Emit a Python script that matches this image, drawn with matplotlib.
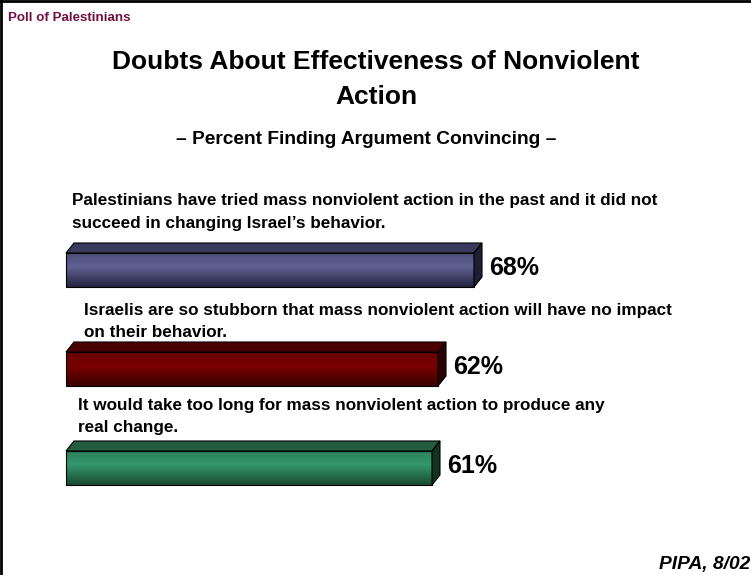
import numpy as np
import matplotlib.pyplot as plt
from matplotlib.colors import LinearSegmentedColormap
from matplotlib.patches import Polygon
from matplotlib.lines import Line2D

plt.rcParams['font.family'] = ['Liberation Sans', 'DejaVu Sans']

# data
statements = [
    "Palestinians have tried mass nonviolent action in the past and it did not\nsucceed in changing Israel\u2019s behavior.",
    "Israelis are so stubborn that mass nonviolent action will have no impact\non their behavior.",
    "It would take too long for mass nonviolent action to produce any\nreal change.",
]
values = [68, 62, 61]
value_labels = ["68%", "62%", "61%"]

# colours: (dark, mid, top face, side face)
bar_cols = [
    ("#242440", "#606093", "#3a3a5e", "#1e1e34"),
    ("#380000", "#7a0000", "#4a0000", "#2a0000"),
    ("#1a4a32", "#34986b", "#245c40", "#123222"),
]
# statement text placement in pixels (left, vertical centre)
label_px = [(72, 212), (84, 321.5), (78, 416.5)]

W, H = 751, 575
fig = plt.figure(figsize=(W / 100, H / 100), dpi=100)
ax = fig.add_axes([0, 0, 1, 1])
px_per_pct = 6.0
px_per_row = 99.0
x0_px, y0_px = 66, 270
ax.set_xlim(-x0_px / px_per_pct, (W - x0_px) / px_per_pct)
ax.set_ylim((H - y0_px) / px_per_row, -y0_px / px_per_row)
ax.axis('off')

bh = 34 / px_per_row
dx = 8 / px_per_pct
dy = 10 / px_per_row
for i, v in enumerate(values):
    dark, mid, topc, sidec = bar_cols[i]
    cmap = LinearSegmentedColormap.from_list('g', [dark, mid], N=256)
    grad = np.linspace(0, 1, 64).reshape(-1, 1)
    # darker at bottom, brightest a bit above middle
    g = np.interp(grad, [0, 0.4, 1], [0.7, 1.0, 0.0])
    ax.imshow(g, cmap=cmap, vmin=0, vmax=1, extent=[0, v, i + bh / 2, i - bh / 2],
              interpolation='bilinear', zorder=2)
    ax.barh(i, v, height=bh, color='none', edgecolor='black', lw=0.8, zorder=3)
    top = Polygon([[0, i - bh / 2], [dx, i - bh / 2 - dy], [v + dx, i - bh / 2 - dy], [v, i - bh / 2]],
                  closed=True, facecolor=topc, edgecolor='black', lw=0.8, zorder=3)
    side = Polygon([[v, i - bh / 2], [v + dx, i - bh / 2 - dy], [v + dx, i + bh / 2 - dy], [v, i + bh / 2]],
                   closed=True, facecolor=sidec, edgecolor='black', lw=0.8, zorder=3)
    ax.add_patch(top)
    ax.add_patch(side)
    ax.text(v + dx + 1.2, i - 0.02, value_labels[i], fontsize=18, fontweight='bold',
            va='center', ha='left', zorder=4)
    lx, ly = label_px[i]
    fig.text(lx / W, 1 - ly / H, statements[i], fontsize=12.3,
             fontweight='bold', va='center', ha='left', linespacing=1.6)

ax.set_aspect('auto')

# titles
fig.text(8 / W, 1 - 18 / H, "Poll of Palestinians", fontsize=9.6, fontweight='bold',
         color='#701040', va='center', ha='left')
fig.text(376 / W, 1 - 62 / H, "Doubts About Effectiveness of Nonviolent", fontsize=19,
         fontweight='bold', va='center', ha='center')
fig.text(376 / W, 1 - 97 / H, "Action", fontsize=19, fontweight='bold', va='center', ha='center')
fig.text(366 / W, 1 - 140 / H, "\u2013 Percent Finding Argument Convincing \u2013", fontsize=13.8,
         fontweight='bold', va='center', ha='center')
fig.text(750 / W, 1 - 565 / H, "PIPA, 8/02", fontsize=13.8, fontweight='bold', style='italic',
         va='center', ha='right')

# frame
fig.add_artist(Line2D([1 / W, 1 / W], [0, 1 - 1 / H], color='black', lw=2))
fig.add_artist(Line2D([1 / W, 1], [1 - 1 / H, 1 - 1 / H], color='black', lw=2))

fig.savefig('out.png', dpi=100)
